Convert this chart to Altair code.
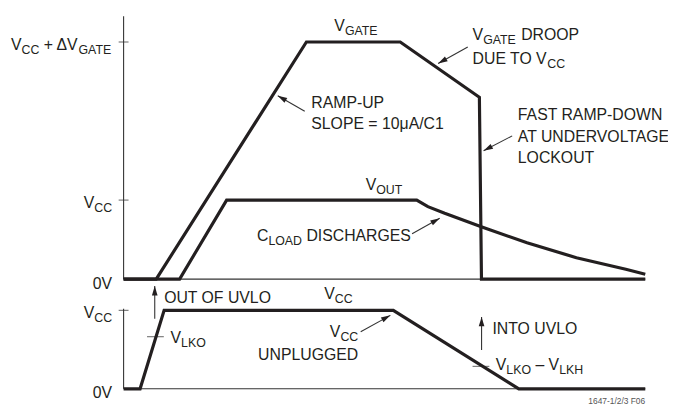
import math
import altair as alt
import pandas as pd

# ---------------- data (time axis 0..100, levels in units of VCC) ----------------
VGATE_T = [0, 6.25, 35.04, 53.03, 68.2, 68.6, 100]
VGATE_V = [0, 0, 3.0, 3.0, 2.30, 0, 0]
VOUT_T = [0, 10.74, 19.75, 56.19, 58.33, 61.55, 68.69, 77.33, 86.8, 96.27, 100]
VOUT_V = [0, 0, 1, 1, 0.917, 0.833, 0.659, 0.459, 0.271, 0.125, 0.0625]
VCC_T = [0, 3.16, 7.77, 51.7, 75.76, 100]
VCC_V = [0, 0, 1, 1, 0, 0]

T_MAX = 100
TOP_AXIS_MAX = 3.325
BOT_AXIS_MAX = 1.02
TOP_TICKS = [1, 3]
BOT_TICKS = [1]

ARROW_PANEL = ["top", "top", "top", "top", "bot", "bot", "bot"]
ARROW_T0 = [34.72, 65.97, 74.49, 55.3, 5.97, 45.45, 68.62]
ARROW_V0 = [2.125, 2.9375, 1.8125, 0.575, 0.894, 0.727, 0.495]
ARROW_T1 = [29.55, 60.29, 69.0, 60.6, 5.97, 51.14, 68.62]
ARROW_V1 = [2.321, 2.729, 1.625, 0.769, 1.31, 0.936, 0.916]

MARK_T = [6.1, 68.5]        # V_LKO and V_LKO - V_LKH marks on VCC
MARK_V = [0.664, 0.286]

# label: panel, anchor t, anchor v, align, baseline shift px, pieces (text, kind) kind 0 main 1 sub 2 note
LABELS = [
    ("top", -2.2, 3.0, "right", 8, [("V", 0), ("CC", 1), (" + ΔV", 0), ("GATE", 1)]),
    ("top", -2.2, 1.0, "right", 8, [("V", 0), ("CC", 1)]),
    ("top", -2.2, 0.0, "right", 10, [("0V", 0)]),
    ("bot", -2.2, 1.0, "right", 8, [("V", 0), ("CC", 1)]),
    ("bot", -2.2, 0.0, "right", 9, [("0V", 0)]),
    ("top", 40.4, 3.134, "left", 0, [("V", 0), ("GATE", 1)]),
    ("top", 66.9, 3.025, "left", 0, [("V", 0), ("GATE", 1), (" DROOP", 0)]),
    ("top", 66.9, 2.716, "left", 0, [("DUE TO V", 0), ("CC", 1)]),
    ("top", 75.57, 2.0125, "left", 0, [("FAST RAMP-DOWN", 0)]),
    ("top", 75.57, 1.729, "left", 0, [("AT UNDERVOLTAGE", 0)]),
    ("top", 75.57, 1.466, "left", 0, [("LOCKOUT", 0)]),
    ("top", 35.98, 2.169, "left", 0, [("RAMP-UP", 0)]),
    ("top", 35.98, 1.894, "left", 0, [("SLOPE = 10μA/C1", 0)]),
    ("top", 46.4, 1.125, "left", 0, [("V", 0), ("OUT", 1)]),
    ("top", 25.57, 0.479, "left", 0, [("C", 0), ("LOAD", 1), (" DISCHARGES", 0)]),
    ("bot", 7.77, 1.096, "left", 0, [("OUT OF UVLO", 0)]),
    ("bot", 38.45, 1.146, "left", 0, [("V", 0), ("CC", 1)]),
    ("bot", 9.0, 0.579, "left", 0, [("V", 0), ("LKO", 1)]),
    ("bot", 44.98, 0.655, "right", 0, [("V", 0), ("CC", 1)]),
    ("bot", 44.98, 0.369, "right", 0, [("UNPLUGGED", 0)]),
    ("bot", 70.7, 0.693, "left", 0, [("INTO UVLO", 0)]),
    ("bot", 71.34, 0.243, "left", 0, [("V", 0), ("LKO", 1), (" – V", 0), ("LKH", 1)]),
    ("bot", 100, -0.189, "right", 0, [("1647-1/2/3 F06", 2)]),
]

# ---------------- style / layout ----------------
INK = "#231f20"
THIN = "#333333"
FONT = "Liberation Sans, Arial, sans-serif"
WIDTH_FACTOR = 1.0
SIZES = {0: 16, 1: 12.5, 2: 8.5}
SUB_DROP = 4
W, H = 528, 377
RANGES = {"top": [266, 0], "bot": [377, 296]}
DOMAINS = {"top": [0, TOP_AXIS_MAX], "bot": [0, BOT_AXIS_MAX]}
PX_T = W / T_MAX
PX_V = {p: (RANGES[p][0] - RANGES[p][1]) / (DOMAINS[p][1] - DOMAINS[p][0]) for p in RANGES}

AW = {'A': 667, 'B': 667, 'C': 722, 'D': 722, 'E': 667, 'F': 611, 'G': 778, 'H': 722, 'I': 278,
      'J': 500, 'K': 667, 'L': 556, 'M': 833, 'N': 722, 'O': 778, 'P': 667, 'Q': 778, 'R': 722,
      'S': 667, 'T': 611, 'U': 722, 'V': 667, 'W': 944, 'X': 667, 'Y': 667, 'Z': 611, ' ': 278,
      '+': 584, '=': 584, '-': 333, '–': 556, '/': 278, 'Δ': 668, 'μ': 576}
for d in "0123456789":
    AW[d] = 556


def text_w(s, size):
    return sum(AW.get(c, 600) for c in s) / 1000.0 * size * WIDTH_FACTOR


text_rows = []
for panel, t, v, align, shift, pieces in LABELS:
    widths = [text_w(s, SIZES[k]) for s, k in pieces]
    total = sum(widths)
    start = -total if align == "right" else 0.0
    cum = start
    for (s, k), w in zip(pieces, widths):
        lead = len(s) - len(s.lstrip(" "))
        off = cum + text_w(" " * lead, SIZES[k])
        drop = shift + (SUB_DROP if k == 1 else 0)
        text_rows.append({"panel": panel, "t": t + off / PX_T, "v": v - drop / PX_V[panel],
                          "txt": s.strip(), "fs": SIZES[k],
                          "col": "#555555" if k == 2 else INK})
        cum += w
text_df = pd.DataFrame(text_rows)

line_rows = []
for name, ts, vs, p in [("VGATE", VGATE_T, VGATE_V, "top"), ("VOUT", VOUT_T, VOUT_V, "top"),
                        ("VCC", VCC_T, VCC_V, "bot")]:
    for i, (t, v) in enumerate(zip(ts, vs)):
        line_rows.append({"panel": p, "series": name, "i": i, "t": t, "v": v})
line_df = pd.DataFrame(line_rows)

rule_rows = []
for p in ["top", "bot"]:
    rule_rows.append({"panel": p, "t0": 0, "v0": 0, "t1": 0, "v1": DOMAINS[p][1]})
    rule_rows.append({"panel": p, "t0": 0, "v0": 0, "t1": T_MAX, "v1": 0})
for p, t0, v0, t1, v1 in zip(ARROW_PANEL, ARROW_T0, ARROW_V0, ARROW_T1, ARROW_V1):
    rule_rows.append({"panel": p, "t0": t0, "v0": v0, "t1": t1, "v1": v1})
rule_df = pd.DataFrame(rule_rows)

head_rows = []
for p, t0, v0, t1, v1 in zip(ARROW_PANEL, ARROW_T0, ARROW_V0, ARROW_T1, ARROW_V1):
    dx = (t1 - t0) * PX_T
    dy = -(v1 - v0) * PX_V[p]
    ang = math.degrees(math.atan2(dx, -dy)) % 360
    head_rows.append({"panel": p, "t": t1, "v": v1, "ang": ang})
head_df = pd.DataFrame(head_rows)

tick_rows = []
for v in TOP_TICKS:
    tick_rows.append({"panel": "top", "t": 0, "v": v, "len": 10})
for v in BOT_TICKS:
    tick_rows.append({"panel": "bot", "t": 0, "v": v, "len": 10})
for t, v in zip(MARK_T, MARK_V):
    tick_rows.append({"panel": "bot", "t": t, "v": v, "len": 17})
tick_df = pd.DataFrame(tick_rows)

ARROW_PATH = "M0,0L0.6,2L-0.6,2Z"

xs = alt.Scale(domain=[0, T_MAX], nice=False, zero=False)


def layers_for(p):
    ys = alt.Scale(domain=DOMAINS[p], range=RANGES[p], nice=False, zero=False)
    X = lambda f: alt.X(f, type="quantitative", scale=xs, axis=None)
    Y = lambda f: alt.Y(f, type="quantitative", scale=ys, axis=None)
    out = []
    out.append(alt.Chart(rule_df[rule_df.panel == p]).mark_rule(color=THIN, strokeWidth=1.1).encode(
        x=X("t0"), x2="t1", y=Y("v0"), y2="v1"))
    tk = tick_df[tick_df.panel == p]
    out.append(alt.Chart(tk).mark_tick(orient="horizontal", color=THIN, thickness=1.1).encode(
        x=X("t"), y=Y("v"), size=alt.Size("len:Q", scale=None)))
    out.append(alt.Chart(line_df[line_df.panel == p]).mark_line(
        color=INK, strokeWidth=3.2, strokeJoin="miter", strokeCap="butt").encode(
        x=X("t"), y=Y("v"), detail="series:N", order="i:Q"))
    hd = head_df[head_df.panel == p]
    out.append(alt.Chart(hd).mark_point(shape=ARROW_PATH, filled=True, size=90, color=INK,
                                        opacity=1, strokeWidth=0).encode(
        x=X("t"), y=Y("v"), angle=alt.Angle("ang:Q", scale=None)))
    out.append(alt.Chart(text_df[text_df.panel == p]).mark_text(
        align="left", baseline="alphabetic", font=FONT).encode(
        x=X("t"), y=Y("v"), text="txt:N", size=alt.Size("fs:Q", scale=None),
        color=alt.Color("col:N", scale=None)))
    return out


chart = alt.layer(*(layers_for("top") + layers_for("bot"))).resolve_scale(
    y="independent").properties(
    width=W, height=H,
    autosize=alt.AutoSizeParams(type="none"),
    padding={"left": 117, "top": 6, "right": 23, "bottom": 15},
).configure_view(stroke=None)

chart.save("out.html", embed_options={"renderer": "svg", "actions": False})
